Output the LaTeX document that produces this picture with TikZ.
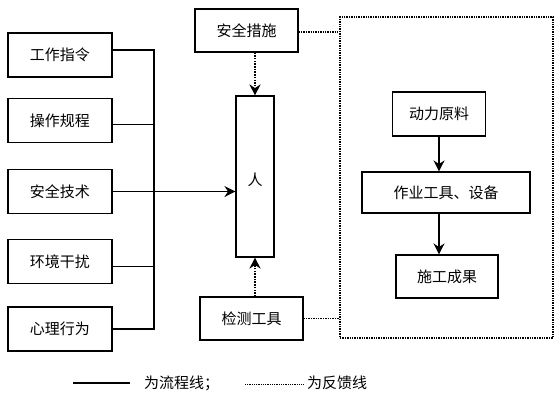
\documentclass[tikz,border=0pt]{standalone}
\usepackage{fontspec}
\setmainfont{Noto Sans CJK SC}
\usetikzlibrary{arrows.meta}

\begin{document}
\begin{tikzpicture}[x=1pt, y=-1pt,
    >={Stealth[length=11pt,width=11pt]},
    box/.style={draw, line width=1.1pt, inner sep=0pt, minimum width=104pt,
        minimum height=44pt, font=\fontsize{15}{18}\selectfont},
    flow/.style={line width=1.1pt},
    feedback/.style={line width=2.4pt, dash pattern=on 1.5pt off 1.2pt},
    fbline/.style={line width=1.8pt, dash pattern=on 1.4pt off 1pt},
    legend/.style={inner sep=0pt, font=\fontsize{15}{18}\selectfont},
    ]
    \useasboundingbox (0,0) rectangle (558,400);
    \node[box](order)  at (60,55)    {工作指令};
    \node[box](rules)  at (60,120.5) {操作规程};
    \node[box](tech)   at (60,191.5) {安全技术};
    \node[box](env)    at (60,261.5) {环境干扰};
    \node[box](mind)   at (60,329)   {心理行为};
    \node[box, minimum width=38pt, minimum height=161pt](man) at (255,176.5) {};
    \node[legend](mantxt) at (255,180) {人};
    \node[box, minimum width=103pt, minimum height=43pt](safe)  at (246.5,30.5)  {安全措施};
    \node[box, minimum width=103pt, minimum height=43pt](check) at (251.5,318.5) {检测工具};
    \node[draw, fbline, minimum width=213pt, minimum height=321pt](plant) at (446.5,177.5) {};
    \node[box, minimum width=93pt](power)                     at (439,114)   {动力原料};
    \node[box, minimum width=168pt, minimum height=41pt](tool) at (446,192.5) {作业工具、设备};
    \node[box, minimum width=102pt, minimum height=43pt](done) at (447,276.5) {施工成果};
    \coordinate (join) at (154,191.5);

    % flow lines
    \draw[flow] ([yshift=5pt]order.east) -| (join);
    \draw[flow] ([yshift=-4pt]rules.east) -| (join);
    \draw[flow] ([yshift=-5pt]env.east) -| (join);
    \draw[flow] (mind.east) -| (join);
    \draw[flow, ->] (tech.east) -- (tech.east -| man.west);
    \draw[flow, ->] (power.south) -- (power.south |- tool.north);
    \draw[flow, ->] (power.south |- tool.south) -- (power.south |- done.north);

    % feedback lines
    \draw[feedback, ->] (safe.south -| man.north) -- (man.north);
    \draw[feedback, ->] (check.north -| man.south) -- (man.south);
    \draw[fbline] ([yshift=-1.5pt]safe.east) -- ([yshift=-1.5pt]safe.east -| plant.west);
    \draw[fbline] (check.east) -- (check.east -| plant.west);

    % legend
    \coordinate (flow a) at (73,383);
    \coordinate (flow b) at (130,383);
    \node[legend, anchor=west](flowtxt) at (144,383) {为流程线；};
    \draw[flow] (flow a) -- (flow b);
    \coordinate (fb a) at (245,384);
    \coordinate (fb b) at (304,384);
    \node[legend, anchor=west](fbtxt) at (307,383) {为反馈线};
    \draw[line width=1pt, dash pattern=on 1pt off 0.8pt] (fb a) -- (fb b);
\end{tikzpicture}
\end{document}
